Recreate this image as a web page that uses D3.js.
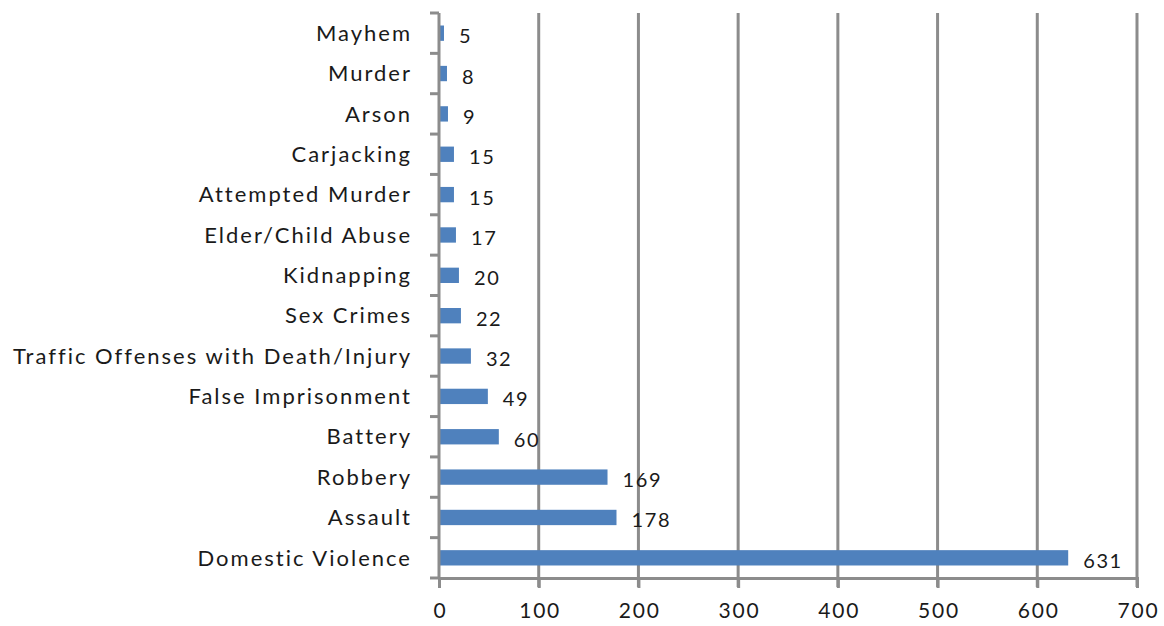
<!DOCTYPE html>
<html>
<head>
<meta charset="utf-8">
<script src="https://cdn.jsdelivr.net/npm/d3@7"></script>
<style>
    html, body { margin: 0; padding: 0; background: #fff; overflow: hidden; }
    svg { display: block; }
    text { font-family: Lato, "Open Sans", sans-serif; fill: #1a1a1a; }
</style>
</head>
<body>
<script>
const categories = [
    "Mayhem", "Murder", "Arson", "Carjacking", "Attempted Murder",
    "Elder/Child Abuse", "Kidnapping", "Sex Crimes",
    "Traffic Offenses with Death/Injury", "False Imprisonment",
    "Battery", "Robbery", "Assault", "Domestic Violence"
];
const counts = [5, 8, 9, 15, 15, 17, 20, 22, 32, 49, 60, 169, 178, 631];
const xTicks = [0, 100, 200, 300, 400, 500, 600, 700];

const width = 1164,
    height = 626,
    margin = { top: 13, right: 27, bottom: 48, left: 439 },
    innerHeight = height - margin.top - margin.bottom,
    gridColour = "#8c8c8c",
    barColour = "#4f81bd",
    labelSpacing = 2.0,
    numberSpacing = 1.6;

const svg = d3.select("body").append("svg")
    .attr("width", width)
    .attr("height", height);

const g = svg.append("g")
    .attr("transform", `translate(${margin.left},${margin.top})`);

const x = d3.scaleLinear().domain([0, 700]).range([0, 698]);
const y = d3.scaleBand().domain(categories).range([0, innerHeight]).paddingInner(0.62).paddingOuter(0.31);

// vertical gridlines
g.append("g")
    .selectAll("line")
    .data(xTicks.slice(1))
    .enter()
    .append("line")
    .attr("x1", d => x(d))
    .attr("x2", d => x(d))
    .attr("y1", 0)
    .attr("y2", innerHeight + 9)
    .attr("stroke", gridColour)
    .attr("stroke-width", 3);

// bars
g.append("g")
    .selectAll("rect")
    .data(counts)
    .enter()
    .append("rect")
    .attr("x", x(0))
    .attr("y", (d, i) => y(categories[i]))
    .attr("width", d => x(d) - x(0))
    .attr("height", y.bandwidth())
    .attr("fill", barColour);

// value labels
g.append("g")
    .selectAll("text")
    .data(counts)
    .enter()
    .append("text")
    .attr("x", d => x(d) + 15)
    .attr("y", (d, i) => y(categories[i]) + y.bandwidth() / 2 + 3)
    .attr("dy", "0.35em")
    .style("font-size", "20px")
    .style("letter-spacing", numberSpacing + "px")
    .text(d => d);

// y axis: ticks between categories, drawn outward
const step = y.step();
const yAxis = g.append("g");
yAxis.append("line")
    .attr("x1", 0).attr("x2", 0)
    .attr("y1", 0).attr("y2", innerHeight)
    .attr("stroke", gridColour).attr("stroke-width", 3);
yAxis.selectAll("line.tick")
    .data(d3.range(categories.length + 1))
    .enter()
    .append("line")
    .attr("class", "tick")
    .attr("x1", -9).attr("x2", 0)
    .attr("y1", i => i * step).attr("y2", i => i * step)
    .attr("stroke", gridColour).attr("stroke-width", 3);
yAxis.selectAll("text")
    .data(categories)
    .enter()
    .append("text")
    .attr("x", -29 + labelSpacing)
    .attr("y", d => y(d) + y.bandwidth() / 2)
    .attr("dy", "0.35em")
    .style("text-anchor", "end")
    .style("font-size", "22px")
    .style("letter-spacing", labelSpacing + "px")
    .text(d => d);

// x axis
const xAxis = g.append("g")
    .attr("transform", `translate(0,${innerHeight})`)
    .call(d3.axisBottom(x).tickValues(xTicks).tickSize(10).tickPadding(15));
xAxis.select(".domain").attr("stroke", gridColour).attr("stroke-width", 3);
xAxis.selectAll(".tick line").attr("stroke", gridColour).attr("stroke-width", 3);
xAxis.selectAll(".tick text")
    .style("font-size", "21px")
    .style("font-family", "Lato, sans-serif")
    .style("letter-spacing", "1.8px")
    .attr("dx", 0.9)
    .attr("fill", "#1a1a1a");
</script>
</body>
</html>
